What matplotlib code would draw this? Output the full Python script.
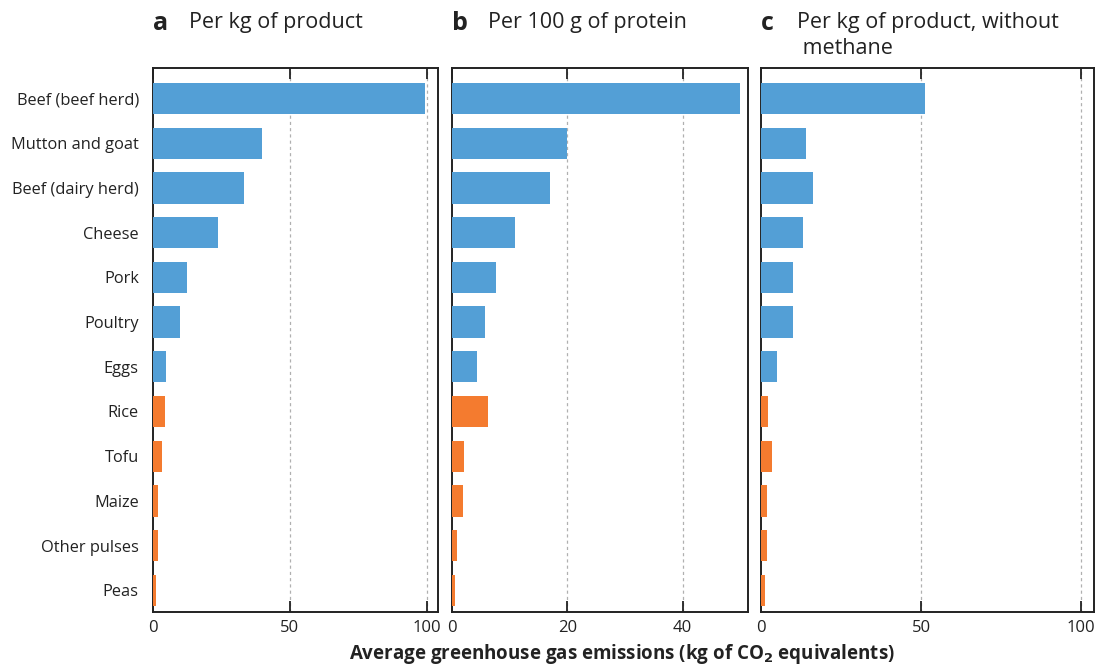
import matplotlib
matplotlib.use("Agg")
import matplotlib.pyplot as plt

plt.rcParams["font.family"] = ["Open Sans", "DejaVu Sans"]

foods = ["Beef (beef herd)", "Mutton and goat", "Beef (dairy herd)", "Cheese",
         "Pork", "Poultry", "Eggs", "Rice", "Tofu", "Maize", "Other pulses", "Peas"]
is_animal = [True, True, True, True, True, True, True,
             False, False, False, False, False]

per_kg = [99.5, 39.9, 33.3, 23.8, 12.5, 10.0, 4.8, 4.5, 3.4, 1.9, 1.9, 1.2]
per_protein = [50.0, 20.0, 17.0, 11.0, 7.7, 5.8, 4.4, 6.3, 2.1, 1.9, 0.9, 0.6]
per_kg_no_methane = [51.2, 14.0, 16.2, 13.0, 9.9, 9.9, 4.9, 2.1, 3.3, 1.8, 1.8, 1.2]

panels = [
    ("a", "Per kg of product", per_kg, 104.2, [0, 50, 100]),
    ("b", "Per 100 g of protein", per_protein, 51.3, [0, 20, 40]),
    ("c", "Per kg of product, without\n methane", per_kg_no_methane, 104.0, [0, 50, 100]),
]

BLUE = "#539fd6"
ORANGE = "#f47b2f"
colors = [BLUE if a else ORANGE for a in is_animal]

fig = plt.figure(figsize=(11.03, 6.65), dpi=100)
W, H = 1103, 665
lefts = [152.7, 451.7, 761.3]
rights = [438.3, 748.0, 1093.7]
top, bottom = 68.3, 611.7

ypos = list(range(len(foods)))
for i, (letter, title, vals, xmax, ticks) in enumerate(panels):
    ax = fig.add_axes([lefts[i] / W, 1 - bottom / H,
                       (rights[i] - lefts[i]) / W, (bottom - top) / H])
    ax.barh(ypos, vals, height=0.7, color=colors, zorder=3)
    ax.set_xlim(0, xmax)
    ax.set_ylim(11.48, -0.68)
    ax.set_xticks(ticks)
    ax.tick_params(axis="x", direction="in", top=True, length=8, width=1.3,
                   labelsize=12, pad=6, colors="#222222")
    for t in ticks[1:]:
        ax.axvline(t, color="#b0b0b0", lw=0.9, ls=(0, (2.5, 2.5)), zorder=1)
    if i == 0:
        ax.set_yticks(ypos)
        ax.set_yticklabels(foods, fontsize=11.8, color="#222222")
        ax.tick_params(axis="y", length=0, pad=10)
    else:
        ax.set_yticks([])
    for s in ax.spines.values():
        s.set_linewidth(1.4)
        s.set_color("#222222")

    fig.text(lefts[i] / W, 1 - 23 / H, letter, fontsize=18, fontweight="bold",
             va="center", ha="left", color="#222222")
    fig.text((lefts[i] + 36) / W, 1 - 12 / H, title, fontsize=15.5, va="top",
             ha="left", color="#222222", linespacing=1.3)

fig.text(622 / W, 1 - 654 / H,
         "Average greenhouse gas emissions (kg of CO$_\\mathbf{2}$ equivalents)",
         fontsize=13.5, fontweight="bold", ha="center", va="center", color="#222222")

fig.savefig("out.png", dpi=100)
